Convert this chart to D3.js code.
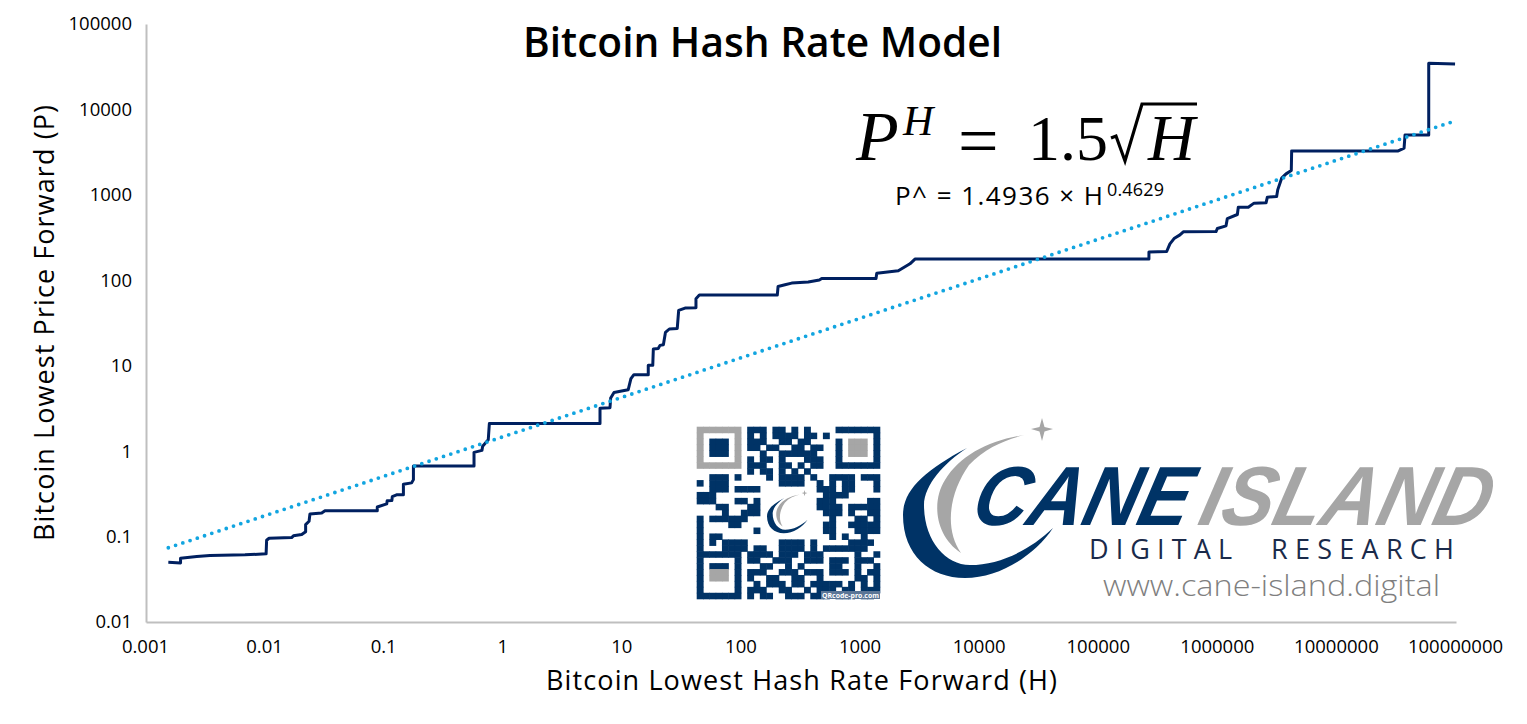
<!DOCTYPE html>
<html>
<head>
<meta charset="utf-8">
<title>Bitcoin Hash Rate Model</title>
<script src="https://cdn.jsdelivr.net/npm/d3@7"></script>
<style>
    body { margin: 0; background: #fff; }
    text { font-family: "Open Sans", sans-serif; fill: #000; }
    .tick-label { font-size: 18.5px; }
    .axis-title { font-size: 27px; }
    .math { font-family: "Liberation Serif", serif; }
</style>
</head>
<body>
<svg id="chart" width="1527" height="724"></svg>
<script>
// lowest hash rate forward (H) and the matching lowest price forward (P)
const hashLow = [0.00154, 0.00195, 0.00195, 0.00267, 0.00344, 0.00678, 0.0102, 0.0103, 0.0108, 0.0167, 0.0173, 0.0203,
    0.0219, 0.0219, 0.0234, 0.0238, 0.0299, 0.0318, 0.0875, 0.0875, 0.105, 0.106, 0.116, 0.117, 0.127, 0.145, 0.145,
    0.170, 0.176, 0.176, 0.568, 0.568, 0.662, 0.671, 0.748, 0.764, 6.49, 6.49, 7.87, 7.98, 8.51, 9.86, 11.2, 11.8, 12.5,
    16.5, 16.5, 18.0, 18.2, 20.0, 20.7, 22.1, 23.0, 24.8, 28.9, 29.7, 33.6, 41.5, 41.5, 44.3, 200, 203, 232, 264, 364,
    451, 472, 1349, 1368, 2075, 2600, 2864, 264000, 264000, 372000, 396000, 429000, 481000, 513000, 966000, 991000,
    1172000, 1202000, 1459000, 1486000, 1803000, 2014000, 2541000, 2606000, 3119000, 3184000, 3436000, 3741000,
    4140000, 4169000, 32730000, 36640000, 37330000, 59020000, 59020000, 98200000];
const priceLow = [0.0500, 0.0492, 0.0557, 0.0583, 0.0600, 0.0611, 0.0628, 0.0905, 0.0955, 0.0973, 0.102, 0.106,
    0.114, 0.138, 0.151, 0.184, 0.189, 0.200, 0.200, 0.222, 0.241, 0.262, 0.264, 0.294, 0.308, 0.308, 0.409,
    0.425, 0.464, 0.671, 0.671, 0.968, 1.02, 1.14, 1.36, 2.10, 2.10, 3.17, 3.23, 4.19, 4.87, 5.06, 5.24, 7.05, 7.85,
    7.85, 10.1, 10.1, 15.7, 15.9, 17.3, 17.6, 24.5, 26.9, 27.3, 44.4, 47.3, 47.7, 60.8, 67.1, 67.1, 84.6, 88.5, 92.7, 95.3,
    101, 105, 105, 121, 129, 156, 177, 177, 215, 217, 267, 308, 340, 369, 372, 404,
    434, 528, 589, 718, 718, 800, 806, 940, 955, 1144, 1567, 1760,
    1923, 3271, 3271, 3516, 5035, 5035, 34700, 34000];

// dotted trend line ends
const trendHash = [0.00154, 100000000];
const trendPrice = [0.074, 7400];

const xTickValues = [0.001, 0.01, 0.1, 1, 10, 100, 1000, 10000, 100000, 1000000, 10000000, 100000000];
const yTickValues = [0.01, 0.1, 1, 10, 100, 1000, 10000, 100000];

// QR code cells, 29 x 29
const qrRows = [
    "11111110111011010100001111111",
    "10000010101011110110100000001",
    "10111010111001101100001011101",
    "10111010110110011011001011101",
    "10111010001001111110001011101",
    "10000010101101000111001000001",
    "11111110111001101011001111111",
    "00000000101101010100000000000",
    "00111010000101111010011110111",
    "10111000000001111001010110001",
    "00111011110000000001110110001",
    "11100000000000000000111100000",
    "11100011010000000001110000011",
    "00011000110000000001111011111",
    "00001001110000000000111010011",
    "10111111000000000000010001101",
    "10000110000000000000110011111",
    "10000000010000000000110001111",
    "10110000000000000000010100100",
    "10101111000001111010000011110",
    "10001111011001111010111111100",
    "11111110111101110111000001001",
    "10000010110011100111011101110",
    "10111010001100101000011001001",
    "10111010111001110111011101011",
    "10111010100110011001000001101",
    "10000010010111011011111010101",
    "10000010111001100101110110111",
    "11111110101100111011101110110"
];

const svg = d3.select('#chart');

const x = d3.scaleLog().domain([0.001, 100000000]).range([146, 1456]);
const y = d3.scaleLog().domain([0.01, 100000]).range([622, 24]);

// axes
let xAxis = d3.axisBottom(x).tickValues(xTickValues).tickSize(0).tickPadding(18)
    .tickFormat(d => d3.format('.3~f')(d));
let yAxis = d3.axisLeft(y).tickValues(yTickValues).tickSize(0).tickPadding(14)
    .tickFormat(d => d3.format('.3~f')(d));

let xGroup = svg.append('g').attr('transform', 'translate(0,622)').call(xAxis);
let yGroup = svg.append('g').attr('transform', 'translate(146,0)').call(yAxis);

[xGroup, yGroup].forEach(g => {
    g.select('.domain').attr('stroke', '#bfbfbf').attr('stroke-width', 2);
    g.selectAll('text').classed('tick-label', true).attr('font-family', null).attr('fill', null);
});
xGroup.selectAll('text').attr('dx', -1);

// series
let line = d3.line().x(d => x(d[0])).y(d => y(d[1]));

svg.append('path')
    .datum(d3.zip(hashLow, priceLow))
    .attr('d', line)
    .attr('fill', 'none')
    .attr('stroke', '#002060')
    .attr('stroke-width', 3)
    .attr('stroke-linejoin', 'round');

svg.append('path')
    .datum(d3.zip(trendHash, trendPrice))
    .attr('d', line)
    .attr('fill', 'none')
    .attr('stroke', '#12a5e0')
    .attr('stroke-width', 3.8)
    .attr('stroke-linecap', 'round')
    .attr('stroke-dasharray', '0 7.63');

// titles
svg.append('text').attr('x', 523).attr('y', 57)
    .attr('font-size', 41).attr('font-weight', 600)
    .attr('textLength', 479).attr('lengthAdjust', 'spacingAndGlyphs').text('Bitcoin Hash Rate Model');

svg.append('text').attr('class', 'axis-title').attr('x', 546).attr('y', 690)
    .attr('textLength', 511).text('Bitcoin Lowest Hash Rate Forward (H)');

svg.append('text').attr('class', 'axis-title')
    .attr('transform', 'translate(54,541) rotate(-90)')
    .attr('textLength', 436).text('Bitcoin Lowest Price Forward (P)');

// big formula
let formula = svg.append('g');
formula.append('text').attr('class', 'math').attr('x', 856).attr('y', 160)
    .attr('font-size', 70).attr('font-style', 'italic').text('P');
formula.append('text').attr('class', 'math').attr('x', 903).attr('y', 135)
    .attr('font-size', 42).attr('font-style', 'italic').text('H');
formula.append('text').attr('class', 'math').attr('x', 958).attr('y', 165)
    .attr('font-size', 72).text('=');
formula.append('text').attr('class', 'math').attr('x', 1028).attr('y', 160)
    .attr('font-size', 64).text('1.5');
formula.append('path').attr('d', 'M1111,138 L1116,136 L1125,161 L1142,104 L1197,104')
    .attr('fill', 'none').attr('stroke', '#000').attr('stroke-width', 3.2);
formula.append('text').attr('class', 'math').attr('x', 1148).attr('y', 160)
    .attr('font-size', 65).attr('font-style', 'italic')
    .attr('textLength', 47).attr('lengthAdjust', 'spacingAndGlyphs').text('H');

svg.append('text').attr('x', 895).attr('y', 205).attr('font-size', 26)
    .attr('textLength', 208).text('P^ = 1.4936 \u00d7 H');
svg.append('text').attr('x', 1107).attr('y', 196).attr('font-size', 18)
    .attr('textLength', 57).text('0.4629');

// QR code
let qrX = d3.scaleBand().domain(d3.range(29)).range([697, 880]);
let qrY = d3.scaleBand().domain(d3.range(29)).range([427, 599]);
let qr = svg.append('g');
qrRows.forEach((row, r) => {
    row.split('').forEach((cell, c) => {
        if (cell === '1') {
            // top left finder ring and the centres of the other two are gray
            let gray = (r < 7 && c < 7 && !(r >= 2 && r <= 4 && c >= 2 && c <= 4))
                || (r >= 2 && r <= 4 && c >= 24 && c <= 26)
                || (r >= 24 && r <= 26 && c >= 2 && c <= 4);
            qr.append('rect')
                .attr('x', qrX(c) - 0.3).attr('y', qrY(r) - 0.3)
                .attr('width', qrX.bandwidth() + 0.6).attr('height', qrY.bandwidth() + 0.6)
                .attr('fill', gray ? '#a6a6a6' : '#003366');
        }
    });
});
svg.append('rect').attr('x', 821).attr('y', 591).attr('width', 59).attr('height', 8).attr('fill', '#5a7596');
svg.append('text').attr('x', 822).attr('y', 597.5)
    .attr('font-size', 7.5).attr('font-weight', 700)
    .attr('textLength', 57).attr('lengthAdjust', 'spacingAndGlyphs')
    .style('fill', '#fff').text('QRcode-pro.com');

// logo crescents
let crescentBlue = 'M967,448 C925,470 903,490 903,515 C903,555 930,578 965,578 C1000,578 1035,555 1053,528 C1030,550 1000,565 970,565 C945,565 924,540 924,505 C924,485 945,462 967,448 Z';
let crescentGray = 'M1024,435 C990,440 960,455 945,480 C932,500 934,535 961,553 C945,530 948,495 969,465 C985,448 1005,440 1024,435 Z';
let star = 'M1042,418 L1044.5,427 L1053,429 L1044.5,431.5 L1042,441 L1039.5,431.5 L1031,429 L1039.5,427 Z';

svg.append('path').attr('d', crescentBlue).attr('fill', '#003366');
svg.append('path').attr('d', crescentGray).attr('fill', '#a6a6a6');
svg.append('path').attr('d', star).attr('fill', '#a6a6a6');

// small copy of the crescents in the middle of the QR code
let miniTransform = 'translate(767,490) scale(0.27) translate(-903,-418)';
svg.append('path').attr('d', crescentBlue).attr('fill', '#003366').attr('transform', miniTransform);
svg.append('path').attr('d', crescentGray).attr('fill', '#a6a6a6').attr('transform', miniTransform);
svg.append('path').attr('d', star).attr('fill', '#a6a6a6').attr('transform', miniTransform);

// logo text
svg.append('text').attr('transform', 'translate(969,525) skewX(-14)').attr('font-size', 84)
    .attr('font-weight', 700).attr('font-style', 'italic')
    .attr('textLength', 216).attr('lengthAdjust', 'spacingAndGlyphs')
    .style('font-family', '"Liberation Sans"').style('fill', '#003366').text('CANE');
svg.append('text').attr('transform', 'translate(1196,525) skewX(-14)').attr('font-size', 84)
    .attr('font-weight', 700).attr('font-style', 'italic')
    .attr('textLength', 290).attr('lengthAdjust', 'spacingAndGlyphs')
    .style('font-family', '"Liberation Sans"').style('fill', '#a6a6a6').text('ISLAND');
svg.append('text').attr('x', 1089).attr('y', 559).attr('font-size', 27)
    .attr('textLength', 143).style('fill', '#1a2a4a').text('DIGITAL');
svg.append('text').attr('x', 1271).attr('y', 559).attr('font-size', 27)
    .attr('textLength', 183).style('fill', '#1a2a4a').text('RESEARCH');
svg.append('text').attr('x', 1103).attr('y', 596).attr('font-size', 30).attr('font-weight', 300)
    .attr('textLength', 337).attr('lengthAdjust', 'spacingAndGlyphs')
    .style('fill', '#7f7f7f').text('www.cane-island.digital');
</script>
</body>
</html>
